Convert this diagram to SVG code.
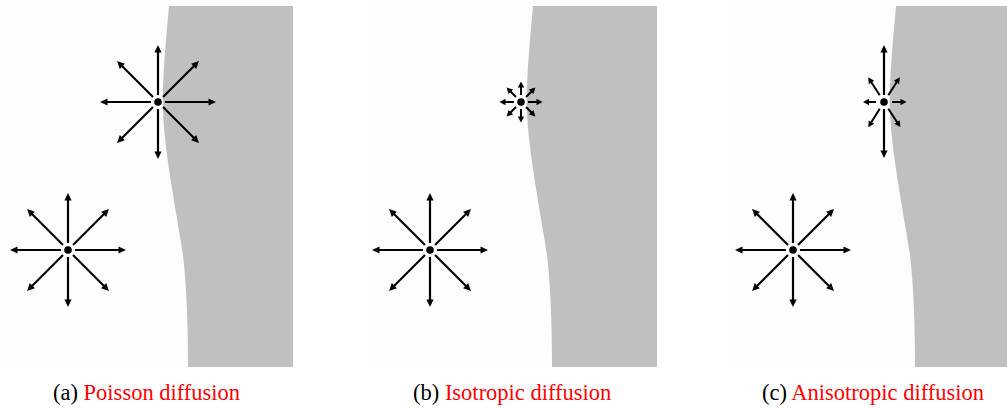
<svg xmlns="http://www.w3.org/2000/svg" xmlns:xlink="http://www.w3.org/1999/xlink" width="1007" height="408" viewBox="0 0 1007 408">
  <style>
    .bg { fill: #fcfdfd; }
    .wall { fill: #c0c0c0; }
    .arr { stroke: #000; stroke-width: 2.2; fill: none; }
    .arrb { marker-end: url(#headBig); }
    .arrs { marker-end: url(#headSmall); stroke-width: 2; }
    .dot { fill: #000; }
    .red { fill: #ff0000; }
  </style>
  <defs>
    <marker id="headBig" markerUnits="userSpaceOnUse" markerWidth="10" markerHeight="10" refX="0" refY="0" orient="auto" overflow="visible">
      <path d="M-0.5,-3.6 L7,0 L-0.5,3.6 Z" fill="#000"/>
    </marker>
    <marker id="headSmall" markerUnits="userSpaceOnUse" markerWidth="8" markerHeight="8" refX="0" refY="0" orient="auto" overflow="visible">
      <path d="M-0.5,-3.2 L5.5,0 L-0.5,3.2 Z" fill="#000"/>
    </marker>
    <g id="bigStar">
      <line class="arr arrb" x1="0" y1="-7" x2="0" y2="-50"/>
      <line class="arr arrb" x1="0" y1="7" x2="0" y2="50"/>
      <line class="arr arrb" x1="-7" y1="0" x2="-51" y2="0"/>
      <line class="arr arrb" x1="7" y1="0" x2="51" y2="0"/>
      <line class="arr arrb" x1="-5" y1="-5" x2="-36" y2="-36"/>
      <line class="arr arrb" x1="5" y1="-5" x2="36" y2="-36"/>
      <line class="arr arrb" x1="5" y1="5" x2="36" y2="36"/>
      <line class="arr arrb" x1="-5" y1="5" x2="-36" y2="36"/>
      <circle class="dot" cx="0" cy="0" r="3.8"/>
    </g>
    <g id="smallStar">
      <line class="arr arrs" x1="0" y1="-7" x2="0" y2="-15"/>
      <line class="arr arrs" x1="0" y1="7" x2="0" y2="15"/>
      <line class="arr arrs" x1="-7" y1="0" x2="-16" y2="0"/>
      <line class="arr arrs" x1="7" y1="0" x2="16" y2="0"/>
      <line class="arr arrs" x1="-5" y1="-5" x2="-10.5" y2="-10.5"/>
      <line class="arr arrs" x1="5" y1="-5" x2="10.5" y2="-10.5"/>
      <line class="arr arrs" x1="5" y1="5" x2="10.5" y2="10.5"/>
      <line class="arr arrs" x1="-5" y1="5" x2="-10.5" y2="10.5"/>
      <circle class="dot" cx="0" cy="0" r="3.8"/>
    </g>
    <g id="anisoStar">
      <line class="arr arrb" x1="0" y1="-7" x2="0" y2="-50"/>
      <line class="arr arrb" x1="0" y1="7" x2="0" y2="49"/>
      <line class="arr arrs" x1="-8" y1="0" x2="-15.5" y2="0"/>
      <line class="arr arrs" x1="8" y1="0" x2="17" y2="0"/>
      <line class="arr arrs" x1="-4.3" y1="-6.7" x2="-12.8" y2="-20"/>
      <line class="arr arrs" x1="4.3" y1="-6.7" x2="12.8" y2="-20"/>
      <line class="arr arrs" x1="4.3" y1="6.7" x2="13.3" y2="20.5"/>
      <line class="arr arrs" x1="-4.3" y1="6.7" x2="-12.8" y2="20.5"/>
      <circle class="dot" cx="0" cy="0" r="3.8"/>
    </g>
    <path id="wallShape" d="M169,6 C166,40 162,80 163,110 C164,150 176,210 183,255 C187,290 188,330 188,367 L293,367 L293,6 Z"/>
  </defs>

  <rect width="1007" height="408" fill="#ffffff"/>

  <g id="panel-a">
    <rect class="bg" x="0" y="0" width="293" height="368"/>
    <use class="wall" xlink:href="#wallShape" href="#wallShape"/>
    <g id="a-source-top"><use xlink:href="#bigStar" href="#bigStar" x="158" y="102"/></g>
    <g id="a-source-bottom"><use xlink:href="#bigStar" href="#bigStar" x="68" y="250"/></g>
    <text id="a-caption" font-family="'Liberation Serif', 'Times New Roman', Tinos, 'DejaVu Serif', serif" font-size="22.5" fill="#000" x="53" y="400">(a) <tspan class="red">Poisson diffusion</tspan></text>
  </g>

  <g id="panel-b">
    <rect class="bg" x="368" y="0" width="289" height="368"/>
    <use class="wall" xlink:href="#wallShape" href="#wallShape" x="364"/>
    <g id="b-source-top"><use xlink:href="#smallStar" href="#smallStar" x="521" y="102"/></g>
    <g id="b-source-bottom"><use xlink:href="#bigStar" href="#bigStar" x="430" y="250"/></g>
    <text id="b-caption" font-family="'Liberation Serif', 'Times New Roman', Tinos, 'DejaVu Serif', serif" font-size="22.5" fill="#000" x="413" y="400">(b) <tspan class="red">Isotropic diffusion</tspan></text>
  </g>

  <g id="panel-c">
    <rect class="bg" x="730" y="0" width="277" height="368"/>
    <use class="wall" xlink:href="#wallShape" href="#wallShape" x="727"/>
    <g id="c-source-top"><use xlink:href="#anisoStar" href="#anisoStar" x="884" y="102"/></g>
    <g id="c-source-bottom"><use xlink:href="#bigStar" href="#bigStar" x="793" y="250"/></g>
    <text id="c-caption" font-family="'Liberation Serif', 'Times New Roman', Tinos, 'DejaVu Serif', serif" font-size="22.5" fill="#000" x="762" y="400">(c) <tspan class="red">Anisotropic diffusion</tspan></text>
  </g>
</svg>
